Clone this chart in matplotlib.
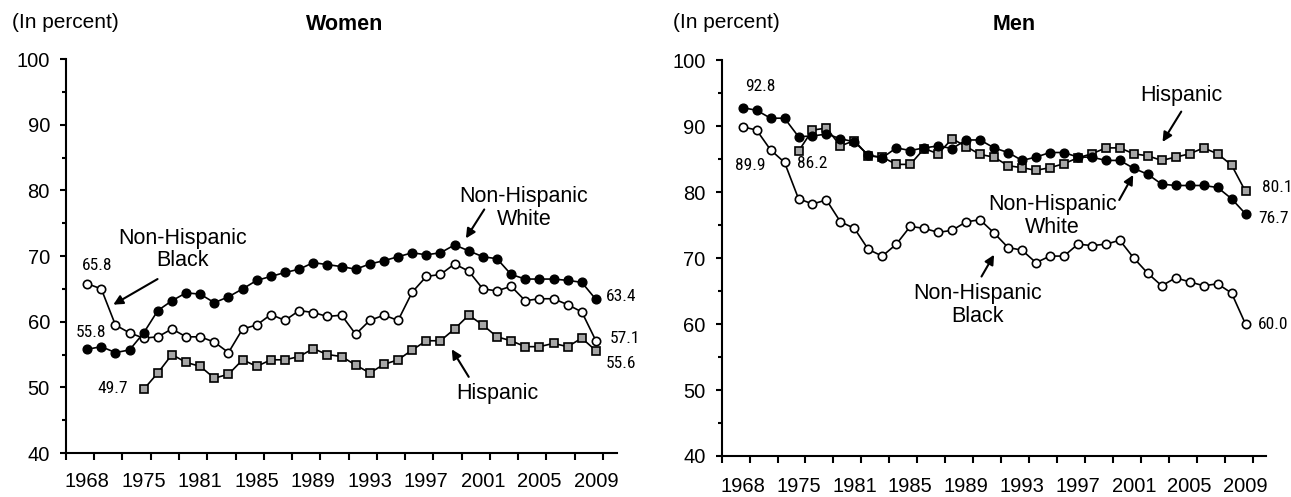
import matplotlib
matplotlib.use('Agg')
import matplotlib.pyplot as plt
from matplotlib import font_manager
import numpy as np

plt.rcParams['font.family'] = ['Liberation Sans', 'DejaVu Sans']

# category axis: 37 points, every 4th one labelled
year_labels = ['1968', '1975', '1981', '1985', '1989', '1993', '1997', '2001', '2005', '2009']
n_pts = 37
hisp_start = 4

# women
w_white = [55.8, 56.2, 55.3, 55.7, 58.3, 61.7, 63.2, 64.4, 64.2, 62.9, 63.8, 65.0, 66.3,
           66.9, 67.5, 68.0, 69.0, 68.7, 68.4, 68.0, 68.8, 69.3, 69.9, 70.5, 70.2, 70.5,
           71.7, 70.8, 69.9, 69.6, 67.2, 66.5, 66.5, 66.5, 66.3, 66.0, 63.4]
w_black = [65.8, 65.0, 59.5, 58.3, 57.5, 57.7, 58.9, 57.7, 57.7, 56.9, 55.3, 58.9, 59.5,
           61.1, 60.2, 61.7, 61.4, 60.8, 61.0, 58.1, 60.2, 61.0, 60.2, 64.5, 66.9, 67.2,
           68.8, 67.7, 65.0, 64.7, 65.4, 63.2, 63.5, 63.5, 62.6, 61.5, 57.1]
w_hisp = [49.7, 52.2, 55.0, 53.8, 53.2, 51.4, 52.0, 54.2, 53.2, 54.2, 54.2, 54.7, 55.9,
          55.0, 54.7, 53.4, 52.2, 53.5, 54.2, 55.7, 57.1, 57.1, 58.9, 61.0, 59.5, 57.7,
          57.1, 56.2, 56.2, 56.7, 56.2, 57.5, 55.6]

# men
m_white = [92.8, 92.4, 91.2, 91.2, 88.4, 88.5, 88.8, 88.1, 87.6, 85.6, 85.2, 86.7, 86.3,
           86.7, 87.0, 86.6, 87.9, 87.9, 86.7, 86.0, 84.8, 85.3, 86.0, 86.0, 85.3, 85.3,
           84.8, 84.8, 83.6, 82.7, 81.2, 81.0, 81.0, 81.0, 80.7, 79.0, 76.7]
m_black = [89.9, 89.4, 86.4, 84.5, 79.0, 78.2, 78.8, 75.5, 74.5, 71.3, 70.3, 72.1, 74.8,
           74.5, 73.9, 74.2, 75.5, 75.8, 73.8, 71.6, 71.2, 69.3, 70.3, 70.3, 72.1, 71.9,
           72.1, 72.7, 70.0, 67.7, 65.8, 67.0, 66.4, 65.8, 66.1, 64.7, 60.0]
m_hisp = [86.2, 89.4, 89.7, 87.0, 87.8, 85.5, 85.3, 84.2, 84.2, 86.6, 85.8, 88.1, 86.9,
          85.7, 85.3, 84.0, 83.7, 83.3, 83.7, 84.3, 85.2, 85.8, 86.7, 86.7, 85.8, 85.5,
          84.8, 85.3, 85.8, 86.7, 85.8, 84.1, 80.1]

# narrow font for the value labels, if one is installed
fm_names = {f.name for f in font_manager.fontManager.ttflist}
num_font = dict(family='Liberation Sans', fontsize=10.5)
for nm in ['Liberation Sans Narrow', 'Roboto Condensed', 'PT Sans Narrow']:
    if nm in fm_names:
        num_font = dict(family=nm, fontsize=12.5, fontweight='normal')
        break

fig = plt.figure(figsize=(12.91, 4.97), dpi=100)
ax_w = fig.add_axes([0.0511, 0.0885, 0.4269, 0.7925])
ax_m = fig.add_axes([0.559, 0.0825, 0.422, 0.7965])

x = np.arange(n_pts)
xh = np.arange(hisp_start, n_pts)


def draw_panel(ax, white, black, hisp, label_pad):
    ax.plot(xh, hisp, '-s', color='black', lw=1.2, ms=5.5, mfc='#a6a6a6', mec='black', mew=1.2)
    ax.plot(x, black, '-o', color='black', lw=1.2, ms=6, mfc='white', mec='black', mew=1.2)
    ax.plot(x, white, '-o', color='black', lw=1.2, ms=6.3, mfc='black', mec='black')
    ax.set_ylim(40, 100)
    ax.set_xlim(-1.5, 37.5)
    ax.set_yticks(np.arange(40, 101, 10))
    ax.set_yticks(np.arange(45, 100, 10), minor=True)
    ax.set_xticks(np.arange(-1.5, 37, 2))
    ax.set_xticklabels([])
    ax.set_xticks(np.arange(0, n_pts, 4), minor=True)
    ax.set_xticklabels(year_labels, minor=True)
    for s in ['top', 'right']:
        ax.spines[s].set_visible(False)
    for s in ['left', 'bottom']:
        ax.spines[s].set_linewidth(1.5)
    ax.tick_params(axis='y', which='major', length=4.5, width=1.5, labelsize=14.5, pad=7)
    ax.tick_params(axis='y', which='minor', length=3, width=1.5)
    ax.tick_params(axis='x', which='major', length=5, width=1.5)
    ax.tick_params(axis='x', which='minor', length=0, labelsize=14.5, pad=label_pad)


arrow = dict(arrowstyle='-|>', color='black', lw=1.5, mutation_scale=14, shrinkA=0, shrinkB=0)


def callout(ax, text, text_xy, tail, head):
    ax.text(text_xy[0], text_xy[1], text, fontsize=15.5, ha='center', va='center', linespacing=1.12)
    ax.annotate('', xy=head, xytext=tail, arrowprops=arrow)


# Women
draw_panel(ax_w, w_white, w_black, w_hisp, 14)
callout(ax_w, 'Non-Hispanic\nBlack', (6.76, 71.0), (4.98, 66.5), (1.85, 62.6))
callout(ax_w, 'Non-Hispanic\nWhite', (30.9, 77.3), (28.1, 77.1), (26.8, 72.7))
callout(ax_w, 'Hispanic', (29.0, 49.0), (27.0, 51.6), (25.8, 55.8))
ax_w.text(0.7, 68.5, '65.8', ha='center', va='center', **num_font)
ax_w.text(0.3, 58.3, '55.8', ha='center', va='center', **num_font)
ax_w.text(1.8, 49.9, '49.7', ha='center', va='center', **num_font)
ax_w.text(36.7, 63.8, '63.4', ha='left', va='center', **num_font)
ax_w.text(37.0, 57.5, '57.1', ha='left', va='center', **num_font)
ax_w.text(36.7, 53.7, '55.6', ha='left', va='center', **num_font)
fig.text(12 / 1291, 1 - 23 / 497, '(In percent)', fontsize=15, ha='left', va='center')
fig.text(345 / 1291, 1 - 25 / 497, 'Women', fontsize=15.5, fontweight='bold', ha='center', va='center')

# Men
draw_panel(ax_m, m_white, m_black, m_hisp, 15)
callout(ax_m, 'Hispanic', (31.4, 94.7), (31.4, 92.2), (30.06, 87.6))
callout(ax_m, 'Non-Hispanic\nWhite', (22.2, 76.4), (26.96, 78.8), (27.96, 82.6))
callout(ax_m, 'Non-Hispanic\nBlack', (16.8, 62.9), (17.1, 67.2), (18.0, 70.5))
ax_m.text(1.24, 96.0, '92.8', ha='center', va='center', **num_font)
ax_m.text(0.52, 84.1, '89.9', ha='center', va='center', **num_font)
ax_m.text(5.0, 84.3, '86.2', ha='center', va='center', **num_font)
ax_m.text(37.2, 80.7, '80.1', ha='left', va='center', **num_font)
ax_m.text(36.9, 76.0, '76.7', ha='left', va='center', **num_font)
ax_m.text(36.9, 60.0, '60.0', ha='left', va='center', **num_font)
fig.text(673 / 1291, 1 - 22 / 497, '(In percent)', fontsize=15, ha='left', va='center')
fig.text(1014 / 1291, 1 - 25 / 497, 'Men', fontsize=15.5, fontweight='bold', ha='center', va='center')

fig.savefig('out.png', dpi=100)
